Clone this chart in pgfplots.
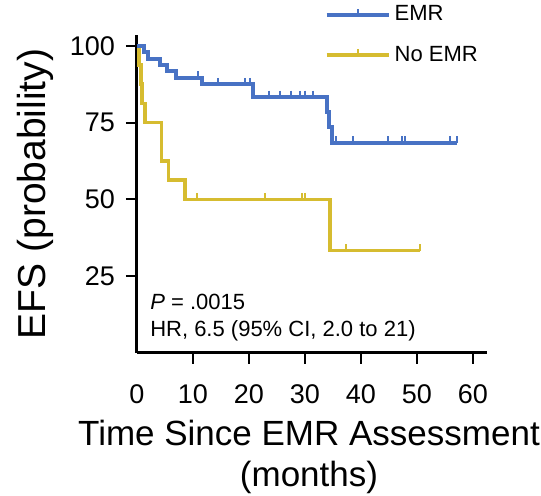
\documentclass[border=0pt]{standalone}
\usepackage{fontspec}
\setmainfont{Liberation Sans}
\usepackage{pgfplots}
\pgfplotsset{compat=1.18}
\definecolor{emrblue}{RGB}{72,114,196}
\definecolor{emryellow}{RGB}{214,188,48}
\pgfplotstableread{
x y
0 100
1.25 97.9
2.0 95.8
4.1 93.8
5.3 91.7
7.0 89.6
11.6 87.5
20.8 83.3
33.9 78.5
34.3 73.5
34.8 68.5
57.1 68.5
}\emrstep
\pgfplotstableread{
x y
10.9 89.6
14.5 87.5
19.3 87.5
20.2 87.5
23.5 83.3
25.5 83.3
27.5 83.3
29.1 83.3
30.0 83.3
31.5 83.3
35.5 68.5
38.6 68.5
44.9 68.5
47.3 68.5
47.9 68.5
55.9 68.5
57.1 68.5
}\emrcens
\pgfplotstableread{
x y
0 100
0.4 93.75
0.7 87.5
0.85 81.25
1.4 75
4.4 62.5
5.6 56.25
8.6 50
34.5 33.3
50.5 33.3
}\noemrstep
\pgfplotstableread{
x y
10.7 50
22.9 50
29.4 50
30.0 50
37.4 33.3
50.5 33.3
}\noemrcens
\begin{document}
\begin{tikzpicture}
\path[use as bounding box] (-68.5pt,-71.5pt) rectangle (202pt,176.5pt);
\begin{axis}[
  at={(0,0)}, anchor=south west, scale only axis,
  width=175pt, height=159pt,
  xmin=0, xmax=62.5, ymin=0, ymax=103.5,
  axis lines=left,
  axis line style={line width=1.5pt, -},
  tick align=outside,
  major tick length=5.5pt,
  tick style={line width=1pt, black},
  xtick={10,20,...,60},
  extra x ticks={0},
  extra x tick style={tick style={draw=none}},
  ytick={25,50,75,100},
  tick label style={font=\fontsize{13.5}{15}\selectfont},
  xticklabel style={yshift=-7pt},
  yticklabel style={xshift=-2pt},
  /pgf/number format/assume math mode=true,
  xlabel={Time Since EMR Assessment\\(months)},
  xlabel style={font=\fontsize{17.5}{20.5}\selectfont, align=center,
    at={(rel axis cs:0.5,0)}, anchor=north, yshift=-30pt, xshift=-1.5pt},
  ylabel={EFS (probability)},
  ylabel style={font=\fontsize{19.5}{21}\selectfont, yshift=1.5pt},
  legend style={at={(rel axis cs:0.535,1.0)}, anchor=west, draw=none, fill=none,
    inner sep=0pt, font=\fontsize{11}{13}\selectfont, row sep=7pt,
    /tikz/every even column/.append style={column sep=6pt}},
  legend cell align=left,
  legend image code/.code={
    \draw[#1, mark=none] (0pt,0pt) -- (31pt,0pt);
    \draw[#1, mark=none, line width=1pt] (15.5pt,0pt) -- (15.5pt,3pt);
  },
  clip=false,
]
\addlegendimage{emrblue, line width=2pt}
\addlegendentry{EMR}
\addlegendimage{emryellow, line width=1.8pt}
\addlegendentry{No EMR}
\addplot[const plot, emryellow, line width=1.8pt, forget plot] table {\noemrstep};
\addplot[only marks, mark=|, mark size=1.6pt, emryellow, mark options={line width=1pt, yshift=1.6pt}, forget plot] table {\noemrcens};
\addplot[const plot, emrblue, line width=2pt, forget plot] table {\emrstep};
\addplot[only marks, mark=|, mark size=1.6pt, emrblue, mark options={line width=1pt, yshift=1.6pt}, forget plot] table {\emrcens};
\node[anchor=base west, inner sep=0pt, font=\fontsize{11}{13}\selectfont] at (axis cs:2.3,14.0) {\textit{P} = .0015};
\node[anchor=base west, inner sep=0pt, font=\fontsize{11}{13}\selectfont] at (axis cs:2.3,5.3) {HR, 6.5 (95\% CI, 2.0 to 21)};
\end{axis}
\end{tikzpicture}
\end{document}
